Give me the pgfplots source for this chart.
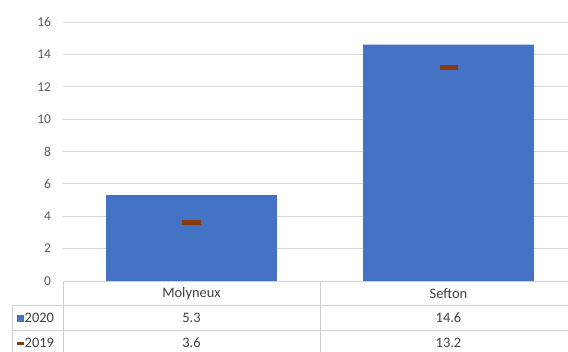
\documentclass[border=0pt]{standalone}
\usepackage{pgfplots}
\pgfplotsset{compat=1.18}
\usepackage{fontspec}
\setmainfont{Carlito}
\usetikzlibrary{calc}
\definecolor{barblue}{HTML}{4472C4}
\definecolor{mk}{HTML}{843C0C}
\definecolor{gridc}{HTML}{D9D9D9}
\definecolor{tablec}{HTML}{D0D0D0}
\definecolor{tickc}{HTML}{595959}
\definecolor{txt}{HTML}{404040}
\begin{document}
\begin{tikzpicture}
\begin{axis}[name=ax, at={(0,0)}, anchor=south west, scale only axis,
  width=505bp, height=259bp,
  xmin=-0.5, xmax=1.465, ymin=0, ymax=16, ytick={0,2,...,16}, xtick=\empty,
  ymajorgrids, grid style={gridc, line width=0.75bp},
  axis line style={draw=none}, major tick length=0pt,
  yticklabel style={tickc, font=\fontsize{13.5}{15}\selectfont, xshift=-8.5bp},
  /pgf/number format/assume math mode=true,
  clip=false,
]
\addplot[ybar, bar width=0.665, fill=barblue, draw=none] coordinates {(0,5.3) (1,14.6)};
\addplot[only marks, mark=-, mark size=9bp, mark options={mk, line width=5bp}] coordinates {(0,3.6) (1,13.2)};
\coordinate (O) at (axis cs:-0.5,0);
\coordinate (M) at (axis cs:0,0);
\coordinate (S) at (axis cs:1,0);
\coordinate (D) at (axis cs:0.5,0);
\coordinate (R) at (axis cs:1.465,0);
\end{axis}
% table lines
\draw[tablec, line width=0.75bp] (O) -- (R);
\draw[tablec, line width=0.75bp] ($(O)+(-51bp,-24bp)$) -- ($(R)+(0,-24bp)$);
\draw[tablec, line width=0.75bp] ($(O)+(-51bp,-49bp)$) -- ($(R)+(0,-49bp)$);
\draw[tablec, line width=0.75bp] (O) -- ++(0,-71bp);
\draw[tablec, line width=0.75bp] (D) -- ++(0,-71bp);
\draw[tablec, line width=0.75bp] ($(O)+(-51bp,-24bp)$) -- ++(0,-47bp);
% table text
\begin{scope}[every node/.style={txt, font=\fontsize{14.5}{16}\selectfont, inner sep=0pt}]
\node at ($(M)+(0,-13bp)$) {Molyneux};
\node at ($(S)+(0,-13bp)$) {Sefton};
\node at ($(M)+(0,-37bp)$) {5.3};
\node at ($(S)+(0,-37bp)$) {14.6};
\node at ($(M)+(0,-62bp)$) {3.6};
\node at ($(S)+(0,-62bp)$) {13.2};
\node[anchor=west] at ($(O)+(-38.5bp,-37bp)$) {2020};
\node[anchor=west] at ($(O)+(-38.5bp,-62bp)$) {2019};
\end{scope}
\fill[barblue] ($(O)+(-46bp,-40.5bp)$) rectangle ++(7bp,7bp);
\fill[mk] ($(O)+(-46bp,-63.5bp)$) rectangle ++(7bp,3bp);
\pgfresetboundingbox
\path ($(O)+(-63bp,-71bp)$) rectangle ($(O)+(505bp,281bp)$);
\end{tikzpicture}
\end{document}
